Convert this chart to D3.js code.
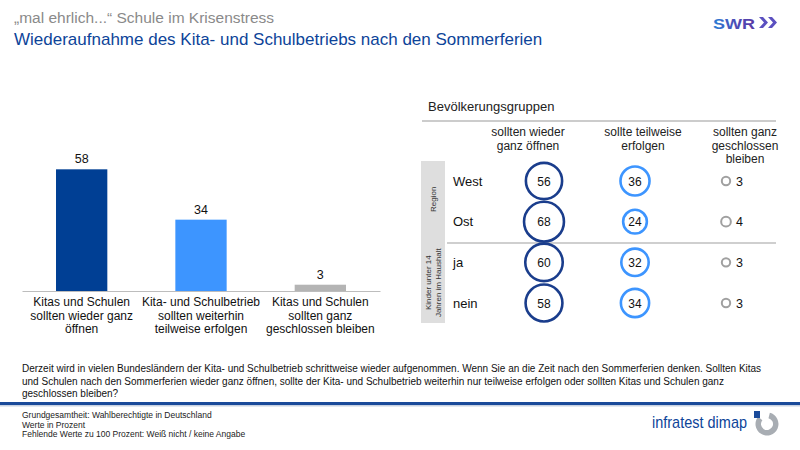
<!DOCTYPE html>
<html><head><meta charset="utf-8">
<script src="https://cdn.jsdelivr.net/npm/d3@7"></script>
<style>
html,body{margin:0;padding:0;background:#fff;}
svg{display:block;font-family:"Liberation Sans",Arial,sans-serif;}
</style></head>
<body>
<svg id="chart" width="800" height="450"></svg>
<script>
// ---------- data ----------
const titleLine1 = "„mal ehrlich...“ Schule im Krisenstress";
const titleLine2 = "Wiederaufnahme des Kita- und Schulbetriebs nach den Sommerferien";
const categories = [
  ["Kitas und Schulen", "sollten wieder ganz", "öffnen"],
  ["Kita- und Schulbetrieb", "sollten weiterhin", "teilweise erfolgen"],
  ["Kitas und Schulen", "sollten ganz", "geschlossen bleiben"]
];
const totals = [58, 34, 3];
const panelTitle = "Bevölkerungsgruppen";
const columnHeaders = [
  ["sollten wieder", "ganz öffnen"],
  ["sollte teilweise", "erfolgen"],
  ["sollten ganz", "geschlossen", "bleiben"]
];
const groupRows = ["West", "Ost", "ja", "nein"];
const openValues = [56, 68, 60, 58];
const partialValues = [36, 24, 32, 34];
const closedValues = [3, 4, 3, 3];
const groupBlocks = [
  {label: ["Region"], rows: ["West", "Ost"]},
  {label: ["Kinder unter 14", "Jahren im Haushalt"], rows: ["ja", "nein"]}
];
const questionText = [
  "Derzeit wird in vielen Bundesländern der Kita- und Schulbetrieb schrittweise wieder aufgenommen. Wenn Sie an die Zeit nach den Sommerferien denken. Sollten Kitas",
  "und Schulen nach den Sommerferien wieder ganz öffnen, sollte der Kita- und Schulbetrieb weiterhin nur teilweise erfolgen oder sollten Kitas und Schulen ganz",
  "geschlossen bleiben?"
];
const footerText = [
  "Grundgesamtheit:  Wahlberechtigte in Deutschland",
  "Werte in Prozent",
  "Fehlende  Werte zu 100 Prozent:  Weiß nicht / keine Angabe"
];

// ---------- styles ----------
const barColors = ["#003f94", "#3d95ff", "#b4b4b4"];
const ringColors = ["#1a3d8c", "#3d95ff", "#a0a0a0"];
const darkBlue = "#0d4499";

const svg = d3.select("#chart");

// Titles
svg.append("text").attr("x", 14).attr("y", 23).attr("font-size", 15.5)
  .attr("fill", "#8a8a8a").text(titleLine1);
svg.append("text").attr("x", 14).attr("y", 45).attr("font-size", 17)
  .attr("fill", darkBlue).text(titleLine2);

// SWR logo
const defs = svg.append("defs");
const grad = defs.append("linearGradient").attr("id", "swrg").attr("x1", "0").attr("x2", "1");
grad.append("stop").attr("offset", "0").attr("stop-color", "#2a7fd6");
grad.append("stop").attr("offset", "0.5").attr("stop-color", "#4a4fb8");
grad.append("stop").attr("offset", "1").attr("stop-color", "#5a3aa6");
svg.append("text").attr("x", 713).attr("y", 28.5).attr("font-size", 15.5).attr("font-weight", "bold")
  .attr("fill", "url(#swrg)").attr("textLength", 42).attr("lengthAdjust", "spacingAndGlyphs").text("SWR");
[759, 768].forEach(x0 => {
  svg.append("path").attr("d", `M${x0},17 L${x0+4},17 L${x0+9},22.5 L${x0+4},28 L${x0},28 L${x0+5},22.5 Z`)
    .attr("fill", "#5b50c0");
});

// ---------- bar chart ----------
const barIds = d3.range(categories.length);
const x = d3.scaleBand().domain(barIds).range([22, 380]).paddingInner(0.57).paddingOuter(0.285);
const y = d3.scaleLinear().domain([0, 100]).range([291, 291 - 209.8]);

svg.append("g").selectAll("rect").data(barIds).join("rect")
  .attr("x", i => x(i)).attr("width", x.bandwidth())
  .attr("y", i => y(totals[i])).attr("height", i => y(0) - y(totals[i]))
  .attr("fill", i => barColors[i]);

svg.append("g").selectAll("text").data(barIds).join("text")
  .attr("x", i => x(i) + x.bandwidth() / 2).attr("y", i => y(totals[i]) - 6)
  .attr("text-anchor", "middle").attr("font-size", 12.5).attr("fill", "#111")
  .text(i => totals[i]);

const xAxis = svg.append("g").attr("transform", "translate(0,291)")
  .call(d3.axisBottom(x).tickSize(0).tickFormat(""));
xAxis.select(".domain").attr("stroke", "#bdbdbd").attr("stroke-width", 1.2);

const catG = svg.append("g").selectAll("text").data(barIds).join("text")
  .attr("x", i => x(i) + x.bandwidth() / 2).attr("y", 306)
  .attr("text-anchor", "middle").attr("font-size", 12).attr("fill", "#111");
catG.each(function(i) {
  const t = d3.select(this);
  categories[i].forEach((line, k) => {
    t.append("tspan").attr("x", x(i) + x.bandwidth() / 2).attr("dy", k === 0 ? 0 : 13.5).text(line);
  });
});

// ---------- group panel ----------
svg.append("text").attr("x", 428).attr("y", 111).attr("font-size", 13).attr("fill", "#222").text(panelTitle);
svg.append("line").attr("x1", 422).attr("x2", 776).attr("y1", 121).attr("y2", 121)
  .attr("stroke", "#9a9a9a").attr("stroke-width", 1.2);

const colX = d3.scalePoint().domain([0, 1, 2]).range([544, 726]);
const headerOffset = [-16, 8, 19];
const rowY = d3.scalePoint().domain(groupRows).range([181, 303]);
const r = d3.scaleSqrt().domain([0, 100]).range([0, 24.2]);

columnHeaders.forEach((lines, c) => {
  const t = svg.append("text").attr("text-anchor", "middle").attr("font-size", 12).attr("fill", "#222")
    .attr("y", 136);
  lines.forEach((line, k) => {
    t.append("tspan").attr("x", colX(c) + headerOffset[c]).attr("dy", k === 0 ? 0 : 13.5).text(line);
  });
});

// gray side block
svg.append("rect").attr("x", 421).attr("y", 161).attr("width", 24).attr("height", 162).attr("fill", "#dedede");
groupBlocks.forEach(b => {
  const yc = (rowY(b.rows[0]) + rowY(b.rows[b.rows.length - 1])) / 2 + (b.rows[0] === "West" ? -2 : 0);
  const t = svg.append("text").attr("transform", `translate(433,${yc}) rotate(-90)`)
    .attr("text-anchor", "middle").attr("font-size", 8).attr("fill", "#333");
  const n = b.label.length;
  b.label.forEach((line, k) => {
    t.append("tspan").attr("x", 0).attr("y", (k - (n - 1) / 2) * 9.5 + 3).text(line);
  });
});

// separator
svg.append("line").attr("x1", 447).attr("x2", 776).attr("y1", 243).attr("y2", 243)
  .attr("stroke", "#cfcfcf").attr("stroke-width", 2);

// row labels
svg.append("g").selectAll("text").data(groupRows).join("text")
  .attr("x", 453).attr("y", d => rowY(d) + 4.5).attr("font-size", 13).attr("fill", "#111").text(d => d);

const seriesList = [openValues, partialValues, closedValues];
seriesList.forEach((vals, c) => {
  const g = svg.append("g");
  g.selectAll("circle").data(groupRows).join("circle")
    .attr("cx", colX(c)).attr("cy", d => rowY(d))
    .attr("r", (d, i) => r(vals[i]))
    .attr("fill", "#fff").attr("stroke", ringColors[c]).attr("stroke-width", c === 2 ? 2 : 2.6);
  g.selectAll("text").data(groupRows).join("text")
    .attr("x", (d, i) => c === 2 ? colX(c) + 10 : colX(c))
    .attr("y", d => rowY(d) + 4.5)
    .attr("text-anchor", c === 2 ? "start" : "middle")
    .attr("font-size", c === 2 ? 12.5 : 12).attr("fill", "#111")
    .text((d, i) => vals[i]);
});

// ---------- question text ----------
const q = svg.append("text").attr("font-size", 10).attr("fill", "#111").attr("y", 372);
questionText.forEach((line, k) => {
  q.append("tspan").attr("x", 22).attr("dy", k === 0 ? 0 : 12.5).text(line);
});

// blue rule
svg.append("rect").attr("x", 0).attr("y", 402).attr("width", 800).attr("height", 3).attr("fill", "#1a4a9a");
svg.append("rect").attr("x", 0).attr("y", 405).attr("width", 800).attr("height", 1.5).attr("fill", "#c8d2e2");

// footer
const f = svg.append("text").attr("font-size", 8.5).attr("fill", "#222").attr("y", 418);
footerText.forEach((line, k) => {
  f.append("tspan").attr("x", 22).attr("dy", k === 0 ? 0 : 9.5).text(line);
});

// infratest dimap logo
svg.append("text").attr("x", 652).attr("y", 428).attr("font-size", 17).attr("fill", darkBlue)
  .attr("textLength", 95).attr("lengthAdjust", "spacingAndGlyphs").text("infratest dimap");
const arc = d3.arc().innerRadius(6).outerRadius(11.5).startAngle(Math.PI * 0.08).endAngle(Math.PI * 1.72);
svg.append("path").attr("d", arc()).attr("transform", "translate(767,424)").attr("fill", "#a8adb3");
svg.append("rect").attr("x", 754).attr("y", 411).attr("width", 6).attr("height", 7).attr("fill", "#1a4a9a");
</script>
</body></html>
